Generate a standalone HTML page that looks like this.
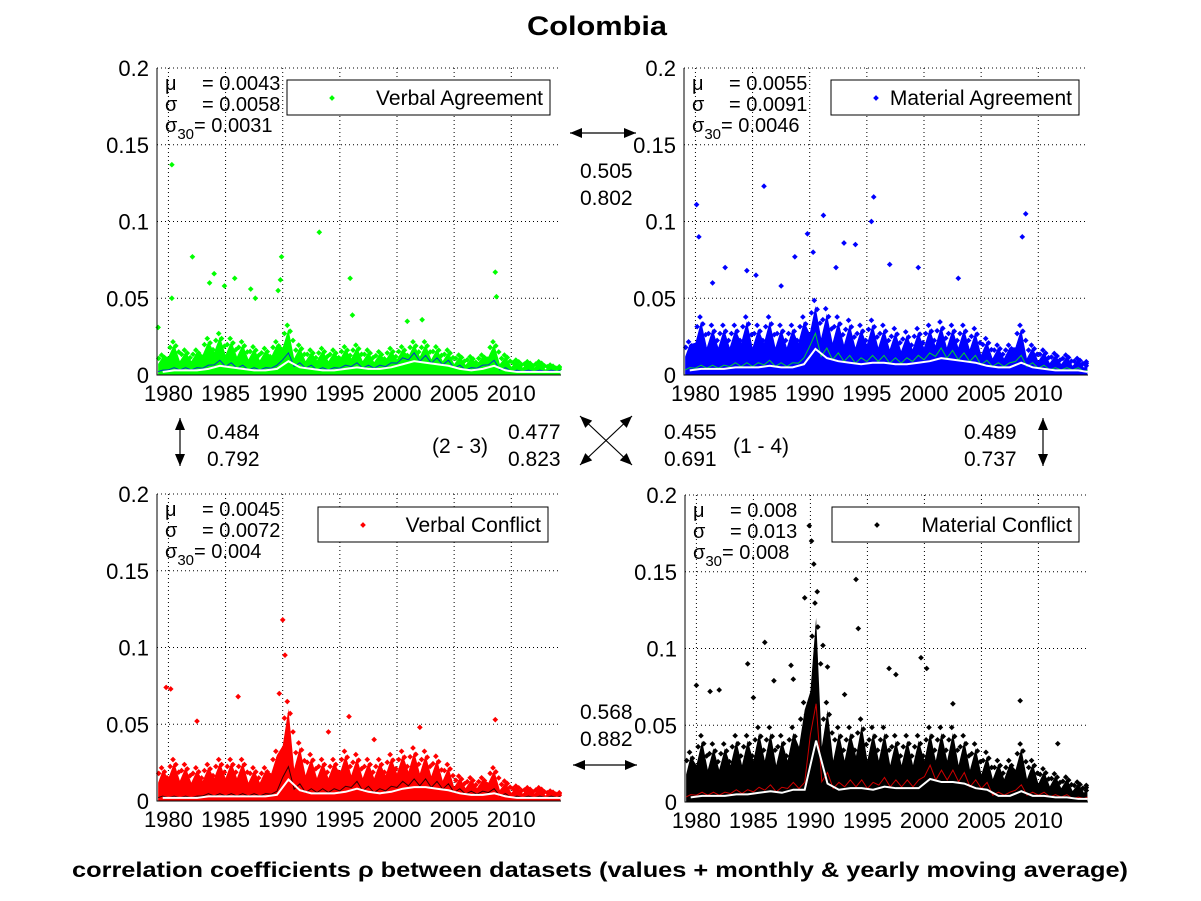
<!DOCTYPE html>
<html><head><meta charset="utf-8"><style>
body{margin:0;background:#fff;}
svg{display:block;font-family:"Liberation Sans",sans-serif;}
</style></head><body>
<svg id="chart" width="1201" height="901" viewBox="0 0 1201 901">
<rect width="1201" height="901" fill="#fff"/>
<text x="527" y="35" font-size="27" font-weight="bold" textLength="140" lengthAdjust="spacingAndGlyphs">Colombia</text>
<text x="72" y="877" font-size="21" font-weight="bold" textLength="1056" lengthAdjust="spacingAndGlyphs">correlation coefficients ρ between datasets (values + monthly &amp; yearly moving average)</text>
<g id="plots"></g>
<g id="annot" font-size="21"></g>
</svg>
<script>
// ---------- data ----------
const years = [1979,1980,1981,1982,1983,1984,1985,1986,1987,1988,1989,1990,1991,1992,1993,1994,1995,1996,1997,1998,1999,2000,2001,2002,2003,2004,2005,2006,2007,2008,2009,2010,2011,2012,2013,2014];
const yTicks = [0,0.05,0.1,0.15,0.2];
const yTickLabels = ["0","0.05","0.1","0.15","0.2"];
const xTicks = [1980,1985,1990,1995,2000,2005,2010];

const vaBand = [0.012,0.02,0.015,0.015,0.022,0.025,0.022,0.02,0.017,0.016,0.02,0.03,0.018,0.015,0.016,0.015,0.017,0.018,0.015,0.014,0.016,0.017,0.02,0.02,0.017,0.015,0.012,0.011,0.012,0.02,0.012,0.009,0.008,0.008,0.006,0.005];
const vaAvg  = [0.002,0.003,0.003,0.003,0.004,0.006,0.005,0.004,0.003,0.003,0.004,0.009,0.005,0.004,0.003,0.003,0.004,0.005,0.004,0.004,0.005,0.007,0.009,0.008,0.007,0.006,0.004,0.003,0.004,0.006,0.003,0.002,0.002,0.002,0.002,0.002];
const vaOutX = [1980.3,1982.1,1989.9,1993.2,1995.9,2008.6,1983.6,1984.0,1985.8,1984.9,1987.2,1989.8,1980.3,2008.7,1987.6,1989.6,1979.1,1996.1,2002.2,2000.9];
const vaOutY = [0.137,0.077,0.077,0.093,0.063,0.067,0.06,0.066,0.063,0.058,0.056,0.062,0.05,0.051,0.05,0.055,0.031,0.039,0.036,0.035];

const maBand = [0.02,0.035,0.03,0.03,0.03,0.035,0.03,0.035,0.03,0.03,0.035,0.045,0.04,0.035,0.033,0.03,0.033,0.03,0.028,0.026,0.028,0.03,0.032,0.03,0.03,0.028,0.022,0.018,0.018,0.03,0.018,0.015,0.013,0.012,0.01,0.008];
const maAvg  = [0.003,0.004,0.004,0.004,0.005,0.005,0.005,0.006,0.005,0.005,0.007,0.017,0.011,0.009,0.008,0.007,0.008,0.008,0.007,0.007,0.008,0.009,0.011,0.01,0.009,0.008,0.006,0.005,0.005,0.008,0.005,0.004,0.003,0.003,0.003,0.002];
const maOutX = [1986.0,1980.1,1995.6,2008.9,1991.2,1989.8,1993.0,1994.0,1988.7,1982.6,1984.5,1997.0,1999.5,2003.0,1980.3,1985.3,1990.3,1992.3,1995.4,2008.6,1981.5,1987.5];
const maOutY = [0.123,0.111,0.116,0.105,0.104,0.092,0.086,0.085,0.077,0.07,0.068,0.072,0.07,0.063,0.09,0.065,0.08,0.07,0.1,0.09,0.06,0.058];

const vcBand = [0.02,0.025,0.022,0.02,0.022,0.025,0.025,0.025,0.02,0.02,0.03,0.06,0.035,0.028,0.025,0.025,0.03,0.028,0.025,0.025,0.028,0.03,0.032,0.03,0.027,0.022,0.015,0.014,0.014,0.02,0.012,0.009,0.008,0.008,0.006,0.005];
const vcAvg  = [0.002,0.002,0.002,0.002,0.003,0.003,0.003,0.003,0.003,0.003,0.004,0.014,0.007,0.005,0.005,0.005,0.006,0.008,0.006,0.005,0.006,0.008,0.009,0.009,0.008,0.007,0.005,0.004,0.004,0.005,0.003,0.002,0.002,0.002,0.002,0.002];
const vcOutX = [1979.8,1990.0,1990.2,1986.1,1982.5,1995.8,2008.6,1989.7,1980.2,1994.0,2002.0,1998.0];
const vcOutY = [0.074,0.118,0.095,0.068,0.052,0.055,0.053,0.07,0.073,0.045,0.048,0.04];

const mcBand = [0.03,0.04,0.035,0.035,0.04,0.04,0.045,0.045,0.04,0.045,0.06,0.12,0.06,0.045,0.045,0.05,0.045,0.045,0.04,0.04,0.04,0.045,0.045,0.045,0.04,0.035,0.03,0.025,0.025,0.035,0.025,0.02,0.017,0.015,0.012,0.01];
const mcAvg  = [0.003,0.004,0.004,0.004,0.005,0.005,0.006,0.007,0.006,0.008,0.008,0.04,0.012,0.008,0.009,0.009,0.008,0.01,0.009,0.009,0.009,0.015,0.013,0.013,0.012,0.009,0.008,0.004,0.004,0.007,0.004,0.004,0.003,0.003,0.002,0.002];
const mcOutX = [1989.9,1990.1,1994.0,1989.5,1990.3,1990.6,1986.0,1991.1,1994.2,1999.7,2000.2,1982.0,1984.5,1988.3,1996.9,1997.5,2002.5,2008.4,1980.0,1981.2,1986.8,1993.0,2011.7,1985.0,1988.5,1991.5];
const mcOutY = [0.18,0.17,0.145,0.133,0.155,0.137,0.104,0.102,0.113,0.094,0.087,0.073,0.09,0.089,0.087,0.083,0.064,0.066,0.076,0.072,0.079,0.07,0.038,0.068,0.08,0.088];

// ---------- drawing ----------
const NS = "http://www.w3.org/2000/svg";
const plots = document.getElementById('plots');
function mk(tag, attrs, parent){const e=document.createElementNS(NS,tag);for(const k in attrs)e.setAttribute(k,attrs[k]);parent.appendChild(e);return e;}
function dot(g,x,y,color,name){
  const p=mk('rect',{x:x-2,y:y-2,width:4,height:4,fill:color,transform:`rotate(45 ${x} ${y})`},g);
  
}

function panel(cfg){
  const {x0,x1,y0,y1} = cfg;
  const g = mk('g',{},plots);
  
  
  const sx = v => x0 + (v-1979.0)/(2014.35-1979.0)*(x1-x0);
  const sy = v => y1 - v/0.2*(y1-y0);
  yTicks.forEach((t,i)=>{
    if(t>0){const l=mk('line',{x1:x0,x2:x1,y1:sy(t),y2:sy(t),stroke:'#000','stroke-width':1,'stroke-dasharray':'1,3'},g);
      }
    const tl=mk('text',{x:x0-8,y:sy(t)+8,'font-size':22,'text-anchor':'end'},g);tl.textContent=yTickLabels[i];
    
  });
  xTicks.forEach(t=>{
    const l=mk('line',{x1:sx(t),x2:sx(t),y1:y0,y2:y1,stroke:'#000','stroke-width':1,'stroke-dasharray':'1,3'},g);
    
    const tl=mk('text',{x:sx(t),y:y1+26,'font-size':22,'text-anchor':'middle'},g);tl.textContent=t;
    
  });
  // dense band
  let d = 'M'+sx(1979.1)+','+sy(0);
  cfg.band.forEach((v,i)=>{const xx=Math.min(years[i]+0.5,2014.3);d+=' L'+sx(Math.max(years[i],1979.1))+','+sy(v*0.6)+' L'+sx(xx)+','+sy(v);});
  d+=' L'+sx(2014.3)+','+sy(0)+' Z';
  const band=mk('path',{d:d,fill:cfg.color},g);
  
  cfg.band.forEach((v,i)=>{
    [0.15,0.4,0.65,0.9].forEach((f,k)=>{
      dot(g,sx(Math.min(years[i]+f,2014.2)),sy(v*[0.9,1.08,0.95,0.75][k]),cfg.color,'value-point');
    });
  });
  // monthly line
  let m='';
  cfg.avg.forEach((v,i)=>{m+=(i?' L':'M')+sx(Math.max(years[i],1979.1))+','+sy(v*1.1)+' L'+sx(Math.min(years[i]+0.5,2014.3))+','+sy(v*1.6);});
  const ml=mk('path',{d:m,fill:'none',stroke:cfg.mcolor,'stroke-width':1,opacity:0.8},g);
  
  cfg.ox.forEach((xv,i)=>dot(g,sx(xv),sy(cfg.oy[i]),cfg.color,'outlier-point'));
  // yearly avg
  let a='';
  cfg.avg.forEach((v,i)=>{a+=(i?' L':'M')+sx(Math.min(years[i]+0.5,2014.3))+','+sy(v);});
  const al=mk('path',{d:a,fill:'none',stroke:'#fff','stroke-width':2},g);
  
  const ax=mk('path',{d:`M${x0},${y0} L${x0},${y1} L${x1},${y1}`,fill:'none',stroke:'#000','stroke-width':1},g);
  
  // stats
  const st=mk('text',{x:x0+8,y:y0+22,'font-size':20},g);
  
  st.innerHTML=`<tspan x="${x0+8}">μ</tspan><tspan x="${x0+45}">= ${cfg.stats[0]}</tspan><tspan x="${x0+8}" dy="21">σ</tspan><tspan x="${x0+45}">= ${cfg.stats[1]}</tspan><tspan x="${x0+8}" dy="21">σ</tspan><tspan font-size="15" dy="7">30</tspan><tspan dy="-7">= ${cfg.stats[2]}</tspan>`;
  // legend
  const lg=mk('g',{},g);
  
  mk('rect',{x:cfg.lx,y:cfg.ly,width:cfg.lw,height:35,fill:'#fff',stroke:'#000','stroke-width':1},lg);
  dot(lg,cfg.lx+45,cfg.ly+18,cfg.color,'legend-marker');
  const lt=mk('text',{x:cfg.lx+cfg.lw-7,y:cfg.ly+25,'font-size':21,'text-anchor':'end'},lg);lt.textContent=cfg.label;
  
}

panel({name:'verbal-agreement-panel',x0:157,x1:561,y0:68,y1:375,band:vaBand,avg:vaAvg,ox:vaOutX,oy:vaOutY,color:'#00ff00',mcolor:'#0000ff',stats:['0.0043','0.0058','0.0031'],lx:287,ly:80,lw:263,label:'Verbal Agreement'});
panel({name:'material-agreement-panel',x0:684,x1:1088,y0:68,y1:375,band:maBand,avg:maAvg,ox:maOutX,oy:maOutY,color:'#0000ff',mcolor:'#00ff00',stats:['0.0055','0.0091','0.0046'],lx:831,ly:80,lw:248,label:'Material Agreement'});
panel({name:'verbal-conflict-panel',x0:157,x1:561,y0:494,y1:801,band:vcBand,avg:vcAvg,ox:vcOutX,oy:vcOutY,color:'#ff0000',mcolor:'#000000',stats:['0.0045','0.0072','0.004'],lx:318,ly:507,lw:230,label:'Verbal Conflict'});
panel({name:'material-conflict-panel',x0:685,x1:1088,y0:495,y1:802,band:mcBand,avg:mcAvg,ox:mcOutX,oy:mcOutY,color:'#000000',mcolor:'#ff0000',stats:['0.008','0.013','0.008'],lx:832,ly:507,lw:247,label:'Material Conflict'});

// ---------- annotations ----------
const an=document.getElementById('annot');
function txt(x,y,s,name){const t=mk('text',{x:x,y:y},an);t.textContent=s;}
function arrow(x1,y1,x2,y2,name){
  const l=mk('g',{},an);
  mk('line',{x1,y1,x2,y2,stroke:'#000','stroke-width':1.2},l);
  const ang=Math.atan2(y2-y1,x2-x1);
  [[x2,y2,ang],[x1,y1,ang+Math.PI]].forEach(([x,y,a])=>{
    const p1=[x-12*Math.cos(a)+5*Math.sin(a),y-12*Math.sin(a)-5*Math.cos(a)];
    const p2=[x-12*Math.cos(a)-5*Math.sin(a),y-12*Math.sin(a)+5*Math.cos(a)];
    mk('polygon',{points:`${x},${y} ${p1} ${p2}`,fill:'#000'},l);
  });
}
arrow(570,133,636,133,'arrow-1-2');
txt(580,178,'0.505','corr-1-2-a');txt(580,205,'0.802','corr-1-2-b');
arrow(180,418,180,466,'arrow-1-3');
txt(207,439,'0.484','corr-1-3-a');txt(207,466,'0.792','corr-1-3-b');
txt(432,453,'(2 - 3)','label-2-3');
txt(508,439,'0.477','corr-2-3-a');txt(508,466,'0.823','corr-2-3-b');
arrow(580,465,632,416,'arrow-2-3');
arrow(580,416,632,465,'arrow-1-4');
txt(664,439,'0.455','corr-1-4-a');txt(664,466,'0.691','corr-1-4-b');
txt(733,453,'(1 - 4)','label-1-4');
txt(964,439,'0.489','corr-2-4-a');txt(964,466,'0.737','corr-2-4-b');
arrow(1043,418,1043,466,'arrow-2-4');
txt(580,719,'0.568','corr-3-4-a');txt(580,746,'0.882','corr-3-4-b');
arrow(573,765,637,765,'arrow-3-4');
</script>
</body></html>
